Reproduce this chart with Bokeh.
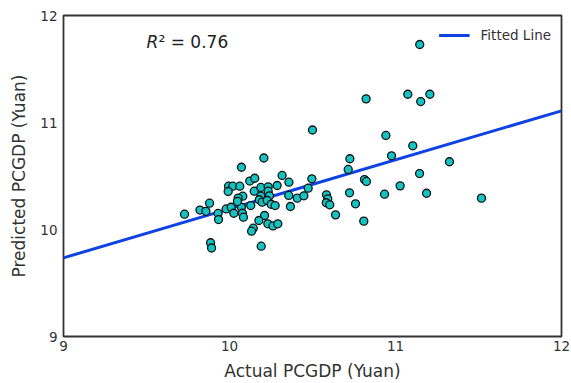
import numpy as np
from bokeh.plotting import figure
from bokeh.models import Label, FixedTicker, Range1d, Legend, LegendItem
from bokeh.embed import file_html
from bokeh.resources import INLINE

# ---- data ----
actual = [
    9.729, 9.822, 9.858, 9.880, 9.931, 9.934, 9.886, 9.892, 9.980, 10.010,
    10.026, 10.072, 10.078, 10.084, 9.994, 10.020, 10.062, 9.992, 10.072, 10.207,
    10.122, 10.152, 10.149, 10.189, 10.233, 10.287, 10.080, 10.052, 10.048, 10.189,
    10.233, 10.241, 10.179, 10.197, 10.227, 10.128, 10.251, 10.275, 10.211, 10.177,
    10.231, 10.262, 10.291, 10.143, 10.133, 10.191,
    10.317, 10.358, 10.496, 10.474, 10.357, 10.408, 10.448, 10.584, 10.592, 10.583,
    10.604, 10.723, 10.759, 10.367, 10.639, 10.725, 10.715, 10.500,
    11.146, 10.823, 11.074, 11.152, 11.207, 10.942, 11.104, 10.976, 11.325, 10.813,
    10.825, 11.145, 11.028, 10.934, 11.187, 11.518, 10.809,
]
predicted = [
    10.143, 10.182, 10.170, 10.246, 10.150, 10.093, 9.876, 9.827, 10.192, 10.208,
    10.152, 10.208, 10.152, 10.115, 10.405, 10.405, 10.405, 10.355, 10.582, 10.668,
    10.453, 10.479, 10.358, 10.393, 10.399, 10.411, 10.311, 10.293, 10.262, 10.311,
    10.358, 10.315, 10.278, 10.255, 10.271, 10.224, 10.236, 10.224, 10.131, 10.084,
    10.053, 10.033, 10.053, 10.012, 9.984, 9.844,
    10.505, 10.442, 10.474, 10.386, 10.318, 10.293, 10.315, 10.324, 10.287, 10.250,
    10.231, 10.343, 10.240, 10.215, 10.137, 10.661, 10.561, 10.930,
    11.729, 11.221, 11.264, 11.196, 11.264, 10.879, 10.782, 10.689, 10.633, 10.467,
    10.449, 10.523, 10.408, 10.330, 10.339, 10.293, 10.078,
]
fit_slope = 0.458
fit_intercept = 5.613
r2_value = "0.76"
x_ticks = [9, 10, 11, 12]
y_ticks = [9, 10, 11, 12]
x_label = "Actual PCGDP (Yuan)"
y_label = "Predicted PCGDP (Yuan)"
legend_label = "Fitted Line"

FONT = "DejaVu Sans"
DARK = "#333333"

p = figure(width=571, height=383,
           x_range=Range1d(x_ticks[0], x_ticks[-1]),
           y_range=Range1d(y_ticks[0], y_ticks[-1]),
           output_backend="svg", toolbar_location=None,
           min_border_left=63, min_border_right=10,
           min_border_top=15, min_border_bottom=47)

p.background_fill_color = "white"
p.border_fill_color = "white"
p.outline_line_color = DARK
p.outline_line_width = 1.8
p.grid.visible = False

for ax, ticks, lab in ((p.xaxis[0], x_ticks, x_label), (p.yaxis[0], y_ticks, y_label)):
    ax.ticker = FixedTicker(ticks=ticks)
    ax.axis_line_color = None
    ax.major_tick_line_color = None
    ax.minor_tick_line_color = None
    ax.major_label_text_font = FONT
    ax.major_label_text_font_size = "13.5px"
    ax.major_label_text_color = DARK
    ax.axis_label = lab
    ax.axis_label_text_font = FONT
    ax.axis_label_text_font_size = "17px"
    ax.axis_label_text_font_style = "normal"
    ax.axis_label_text_color = DARK
    ax.major_tick_out = 0
    ax.major_tick_in = 0
p.xaxis[0].major_label_standoff = 4
p.yaxis[0].major_label_standoff = 6
p.xaxis[0].axis_label_standoff = 7
p.yaxis[0].axis_label_standoff = 8

# fitted line across the x range
xs_fit = np.array([x_ticks[0], x_ticks[-1]], dtype=float)
ys_fit = fit_intercept + fit_slope * xs_fit
line_r = p.line(xs_fit, ys_fit, line_color="#0f42e3", line_width=3)

p.scatter(actual, predicted, marker="circle", size=8,
          fill_color="#14c3c3", line_color="#111111", line_width=1.3)

legend = Legend(items=[LegendItem(label=legend_label, renderers=[line_r])],
                location="top_right", border_line_alpha=0,
                background_fill_alpha=0, margin=5, padding=5,
                glyph_width=31, glyph_height=20, label_standoff=11,
                label_text_font=FONT, label_text_font_size="13.5px",
                label_text_color=DARK)
p.add_layout(legend)

p.add_layout(Label(x=9.5, y=11.757, text="R", text_font=FONT,
                   text_font_style="italic", text_font_size="17px",
                   text_color="#222222", text_baseline="middle", text_align="left"))
p.add_layout(Label(x=9.5, y=11.757, x_offset=12, text="² = " + r2_value,
                   text_font=FONT, text_font_size="17px",
                   text_color="#222222", text_baseline="middle", text_align="left"))

open("out.html", "w").write(file_html(p, INLINE))
